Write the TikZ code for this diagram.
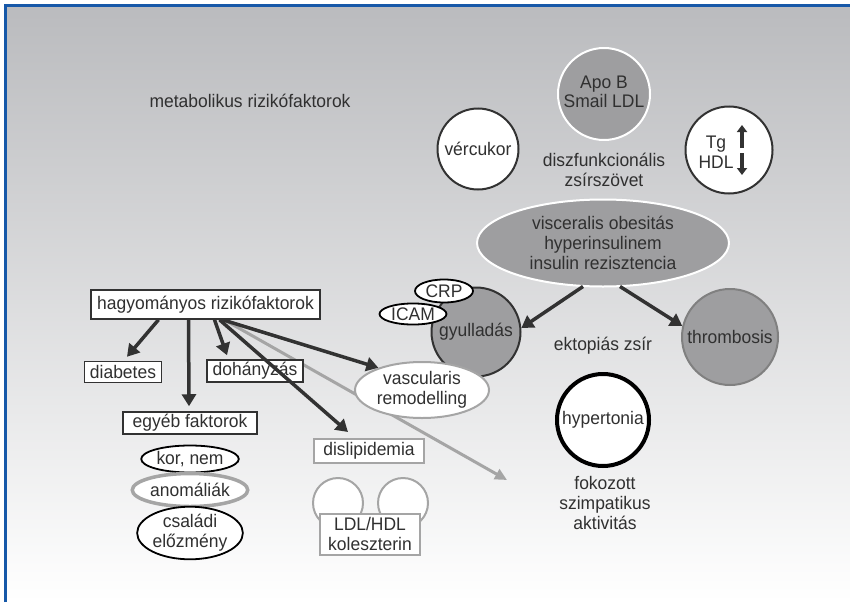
\documentclass[tikz,border=0pt]{standalone}
\usepackage{fontspec}
\setmainfont[FakeStretch=0.96]{Liberation Sans}
\usetikzlibrary{arrows.meta,positioning,shapes.geometric}
\definecolor{txtgray}{RGB}{48,48,48}
\definecolor{darkline}{RGB}{50,50,50}
\definecolor{midgray}{RGB}{158,158,160}
\definecolor{lightline}{RGB}{165,165,165}
\definecolor{bgtop}{RGB}{186,187,190}
\definecolor{frameblue}{RGB}{22,88,168}

\begin{document}
\begin{tikzpicture}[x=1pt,y=-1pt,
	every node/.style={font=\fontsize{18.2}{20}\selectfont, text=txtgray, inner sep=1pt},
	bubble/.style={circle, draw=darkline, line width=2pt, fill=white, minimum size=#1},
	graybubble/.style={circle, draw=white, line width=2pt, fill=midgray, minimum size=#1},
	oval/.style={ellipse, draw=black, line width=1.8pt, fill=white},
	darkbox/.style={rectangle, draw=darkline, line width=1.5pt, fill=white},
	lightbox/.style={rectangle, draw=lightline, line width=2pt, fill=white},
	fatarrow/.style={draw=darkline, line width=3.5pt, -{Triangle[length=12pt,width=14pt]}},
	thinarrow/.style={draw=lightline, line width=3pt, -{Triangle[length=12pt,width=11pt]}}]
	\useasboundingbox (0,0) rectangle (850,602);
	\shade[top color=bgtop, bottom color=white] (5,5) rectangle (850,602);
	\draw[frameblue, line width=3pt] (5.5,602) -- (5.5,5.5) -- (850,5.5);

	% metabolikus oldal
	\node (metab) at (250,101) {metabolikus rizikófaktorok};
	\node[graybubble=92] (apob) at (604,94) {\begin{tabular}{@{}c@{}}Apo B\\[-1pt]Smail LDL\end{tabular}};
	\node[bubble=81] (vercukor) at (478,149) {vércukor};
	\node[bubble=87] (tghdl) at (729,150) {};
	\node[align=center] (tgtext) at (716,152) {Tg\\HDL};
	\draw[darkline, line width=3.5pt, -{Triangle[length=7pt,width=10pt]}]
		([xshift=13pt,yshift=2pt]tghdl.center) -- ([xshift=13pt,yshift=25pt]tghdl.center);
	\draw[darkline, line width=3.5pt, -{Triangle[length=7pt,width=10pt]}]
		([xshift=13pt,yshift=-3pt]tghdl.center) -- ([xshift=13pt,yshift=-25pt]tghdl.center);
	\node[align=center] (diszf) at (604,170) {diszfunkcionális\\zsírszövet};
	\node[ellipse, draw=white, line width=2pt, fill=midgray, minimum width=252, minimum height=87, align=center, inner sep=0pt]
		(visc) at (603,243) {visceralis obesitás\\hyperinsulinem\\insulin rezisztencia};

	\node[circle, draw=darkline, line width=2pt, fill=midgray, minimum size=89] (gyull) at (476,332) {gyulladás};
	\node[oval, minimum width=58, minimum height=23] (crp) at (444,291) {CRP};
	\node[oval, minimum width=67, minimum height=20] (icam) at (413,314) {ICAM};
	\node[circle, draw=gray, line width=2pt, fill=midgray, minimum size=96] (thromb) at (730,337) {thrombosis};
	\node (ektop) at (603,346) {ektopiás zsír};
	\node[circle, draw=black, line width=4pt, fill=white, minimum size=92] (hypert) at (603,420) {hypertonia};
	\node[align=center] (szimp) at (605,503) {fokozott\\szimpatikus\\aktivitás};

	% hagyomanyos oldal
	\draw[thinarrow] (228,322) -- (507,480);
	\node[ellipse, draw=lightline, line width=2pt, fill=white, minimum width=134, minimum height=56, align=center, inner sep=0pt]
		(vasc) at (422,390) {vascularis\\remodelling};
	\node[darkbox, minimum width=229, minimum height=29] (hagy) at (205.5,304.5) {hagyományos rizikófaktorok};
	\node[darkbox, minimum width=77, minimum height=21] (diab) at (123,372) {diabetes};
	\node[darkbox, minimum width=96, minimum height=22] (dohany) at (255,371) {dohányzás};
	\node[darkbox, minimum width=134, minimum height=22] (egyeb) at (190,423) {egyéb faktorok};
	\node[oval, minimum width=96, minimum height=27] (kornem) at (190,459) {kor, nem};
	\node[ellipse, draw=lightline, line width=3.5pt, fill=white, minimum width=100, minimum height=33] (anomal) at (190,490) {anomáliák};
	\node[oval, minimum width=104, minimum height=48, align=center, inner sep=0pt] (csaladi) at (190,533) {családi\\előzmény};
	\node[lightbox, minimum width=110, minimum height=24] (dislip) at (369,451) {dislipidemia};
	\node[circle, draw=lightline, line width=2pt, fill=white, minimum size=50] (ldlkor) at (338,503) {};
	\node[circle, draw=lightline, line width=2pt, fill=white, minimum size=50] (hdlkor) at (403,503) {};
	\node[lightbox, minimum width=100, minimum height=41, align=center, inner sep=0pt] (ldlhdl) at (370,534) {LDL/HDL\\koleszterin};

	\draw[fatarrow] ([xshift=-47pt]hagy.south) -- ([xshift=4pt,yshift=4pt]diab.north);
	\draw[fatarrow] ([xshift=-17pt]hagy.south) -- ([xshift=-1pt,yshift=5pt]egyeb.north);
	\draw[fatarrow] ([xshift=9pt]hagy.south) -- ([xshift=-28pt,yshift=4pt]dohany.north);
	\draw[fatarrow] ([xshift=14pt]hagy.south) -- ([xshift=-21pt,yshift=6pt]dislip.north);
	\draw[fatarrow] ([xshift=17pt]hagy.south) -- (vasc.153);
	\draw[fatarrow] ([xshift=-20pt,yshift=1pt]visc.south) -- (gyull.5);
	\draw[fatarrow] ([xshift=17pt,yshift=1pt]visc.south) -- (thromb.167);
\end{tikzpicture}
\end{document}
